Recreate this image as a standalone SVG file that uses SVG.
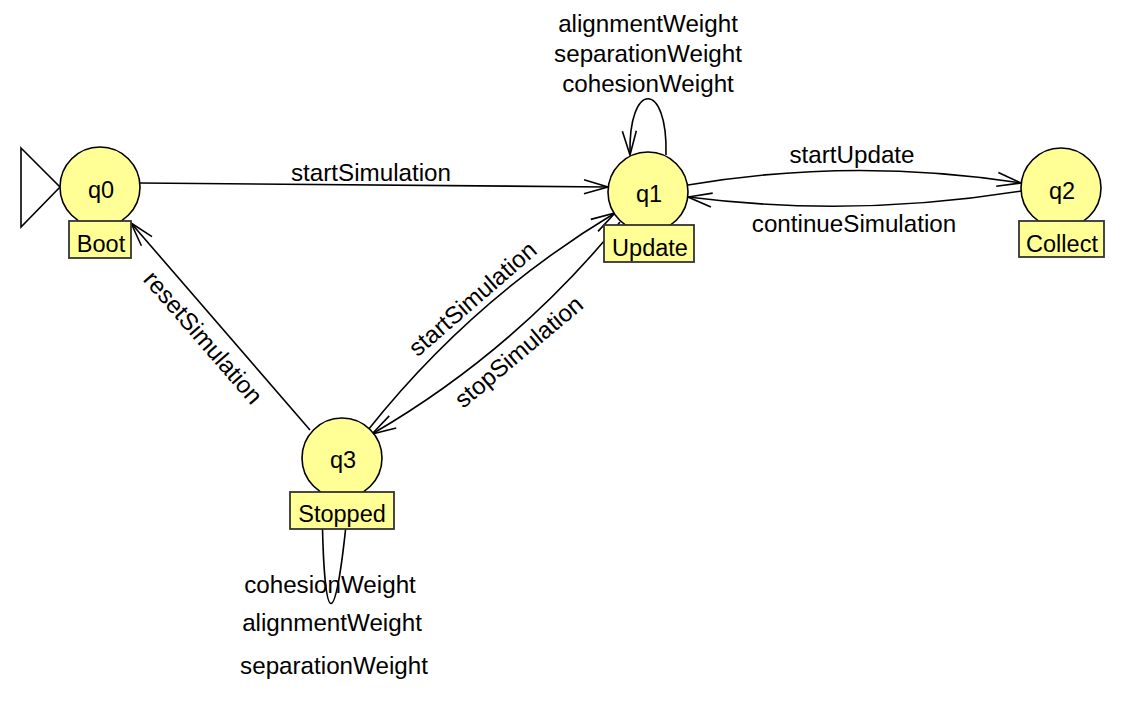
<svg xmlns="http://www.w3.org/2000/svg" width="1130" height="701" viewBox="0 0 1130 701">
<defs>
<style>
.edge{fill:none;stroke:#000;stroke-width:1.6}
.lbl{font-family:"Liberation Sans",Arial,sans-serif;font-size:23.5px;fill:#000;text-anchor:middle}
.elbl{font-family:"Liberation Sans",Arial,sans-serif;font-size:24.2px;fill:#000;text-anchor:middle}
.state{fill:#FFFF96;stroke:#000;stroke-width:1.6}
.box{fill:#FFFF96;stroke:#333;stroke-width:1.8}
.init{fill:#fff;stroke:#000;stroke-width:1.6}
</style>
<marker id="arr" viewBox="-26 -10 28 20" markerWidth="28" markerHeight="20" refX="0" refY="0" orient="auto" markerUnits="userSpaceOnUse">
<path d="M-24,-7 L0,0 L-24,7" fill="none" stroke="#000" stroke-width="1.6"/>
</marker>
</defs>
<rect width="1130" height="701" fill="#fff"/>
<g id="connectors">
<path class="edge" d="M140,183 L608,187" marker-end="url(#arr)"/>
<path class="edge" d="M666,155 C668,80 628,80 630,155" marker-end="url(#arr)"/>
<path class="edge" d="M688,185 Q853,157 1021,183" marker-end="url(#arr)"/>
<path class="edge" d="M1021,191 Q853,218 688,197" marker-end="url(#arr)"/>
<path class="edge" d="M368,430 Q472,299 615,213" marker-end="url(#arr)"/>
<path class="edge" d="M620,222 Q515,351 372,434" marker-end="url(#arr)"/>
<path class="edge" d="M310,430 L131,223" marker-end="url(#arr)"/>
<path class="edge" d="M322,494 C323,640 336,640 349,494"/>
<text class="elbl" x="371" y="181">startSimulation</text>
<text class="elbl" x="648" y="32">alignmentWeight</text>
<text class="elbl" x="648" y="62">separationWeight</text>
<text class="elbl" x="648" y="92">cohesionWeight</text>
<text class="elbl" x="852" y="163">startUpdate</text>
<text class="elbl" x="854" y="232">continueSimulation</text>
<text class="elbl" x="478" y="305" transform="rotate(-41 478 305)">startSimulation</text>
<text class="elbl" x="524" y="358" transform="rotate(-40 524 358)">stopSimulation</text>
<text class="elbl" x="197" y="343" transform="rotate(49 197 343)">resetSimulation</text>
<text class="elbl" x="330" y="593">cohesionWeight</text>
<text class="elbl" x="332" y="631">alignmentWeight</text>
<text class="elbl" x="334" y="674">separationWeight</text>
</g>
<g id="q0">
<polygon class="init" points="21,148 60,187 21,227"/>
<circle class="state" cx="100" cy="187" r="40"/>
<text class="lbl" x="101" y="197.5">q0</text>
<rect class="box" x="69" y="221" width="62" height="37"/>
<text class="lbl" x="101" y="251.5">Boot</text>
</g>
<g id="q1">
<circle class="state" cx="648" cy="192" r="40"/>
<text class="lbl" x="649" y="202">q1</text>
<rect class="box" x="604" y="225" width="90" height="37"/>
<text class="lbl" x="650" y="255.5">Update</text>
</g>
<g id="q2">
<circle class="state" cx="1061" cy="188" r="40"/>
<text class="lbl" x="1062" y="198.5">q2</text>
<rect class="box" x="1019" y="221" width="85" height="36"/>
<text class="lbl" x="1062" y="251.5">Collect</text>
</g>
<g id="q3">
<circle class="state" cx="342" cy="458" r="40"/>
<text class="lbl" x="343" y="468">q3</text>
<rect class="box" x="290" y="492" width="104" height="37"/>
<text class="lbl" x="342" y="522">Stopped</text>
</g>
</svg>
